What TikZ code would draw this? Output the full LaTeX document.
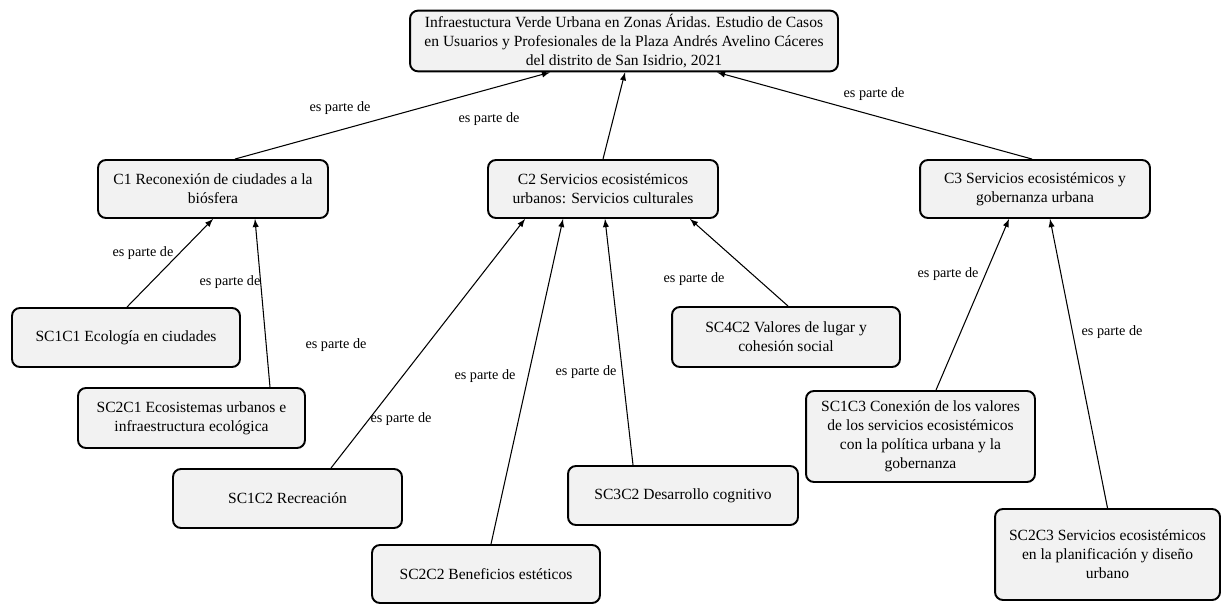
\documentclass[tikz,border=0pt]{standalone}
\usepackage{fontspec}
\setmainfont{Liberation Serif}
\usepackage{tikz}
\usetikzlibrary{positioning,calc}
\definecolor{boxgray}{RGB}{242,242,242}
\tikzset{>=latex}
\tikzset{concept/.style={draw=black, line width=1.1pt, rounded corners=4.5pt,
    fill=boxgray, align=center, inner sep=2pt,
    font=\fontsize{8.85}{10.8}\selectfont}}
\tikzset{link/.style={font=\fontsize{8.1}{9.5}\selectfont, inner sep=1pt}}
\tikzset{partof/.style={->, line width=0.6pt}}

\begin{document}
\begin{tikzpicture}[x=0.02cm, y=-0.02cm]
  \useasboundingbox (0,0) rectangle (1222,604);
  % main topic
  \node[concept, minimum width=8.56cm, minimum height=1.16cm] (top) at (624,41)
    {Infraestuctura Verde Urbana en Zonas Áridas. Estudio de Casos\\
     en Usuarios y Profesionales de la Plaza Andrés Avelino Cáceres\\
     del distrito de San Isidrio, 2021};
  % categories
  \node[concept, minimum width=4.6cm, minimum height=1.16cm] (c1) at (213,189)
    {C1 Reconexión de ciudades a la\\biósfera};
  \node[concept, minimum width=4.6cm, minimum height=1.16cm] (c2) at (603,189)
    {C2 Servicios ecosistémicos\\urbanos: Servicios culturales};
  \node[concept, minimum width=4.6cm, minimum height=1.16cm] (c3) at (1035,189)
    {C3 Servicios ecosistémicos y\\gobernanza urbana};
  % subcategories
  \node[concept, minimum width=4.56cm, minimum height=1.18cm] (sc1c1) at (126,337.5)
    {SC1C1 Ecología en ciudades};
  \node[concept, minimum width=4.54cm, minimum height=1.2cm] (sc2c1) at (191.5,418)
    {SC2C1 Ecosistemas urbanos e\\infraestructura ecológica};
  \node[concept, minimum width=4.58cm, minimum height=1.18cm] (sc1c2) at (287.5,498.5)
    {SC1C2 Recreación};
  \node[concept, minimum width=4.56cm, minimum height=1.16cm] (sc2c2) at (486,574)
    {SC2C2 Beneficios estéticos};
  \node[concept, minimum width=4.6cm, minimum height=1.18cm] (sc3c2) at (683,495.5)
    {SC3C2 Desarrollo cognitivo};
  \node[concept, minimum width=4.56cm, minimum height=1.2cm] (sc4c2) at (786,337)
    {SC4C2 Valores de lugar y\\cohesión social};
  \node[concept, minimum width=4.58cm, minimum height=1.82cm] (sc1c3) at (920.5,436.5)
    {SC1C3 Conexión de los valores\\de los servicios ecosistémicos\\con la política urbana y la\\gobernanza};
  \node[concept, minimum width=4.5cm, minimum height=1.82cm] (sc2c3) at (1107.5,554.5)
    {SC2C3 Servicios ecosistémicos\\en la planificación y diseño\\urbano};

  % links
  \draw[partof] ([xshift=0.44cm]c1.north) -- ([xshift=-1.48cm]top.south);
  \draw[partof] (c2.north) -- ([xshift=0.02cm]top.south);
  \draw[partof] ([xshift=-0.06cm]c3.north) -- ([xshift=1.86cm]top.south);
  \draw[partof] ([xshift=0.02cm]sc1c1.north) -- (c1.south);
  \draw[partof] ([xshift=1.57cm]sc2c1.north) -- ([xshift=0.84cm]c1.south);
  \draw[partof] ([xshift=0.87cm]sc1c2.north) -- ([xshift=-1.56cm]c2.south);
  \draw[partof] ([xshift=0.1cm]sc2c2.north) -- ([xshift=-0.8cm]c2.south);
  \draw[partof] ([xshift=-1cm]sc3c2.north) -- ([xshift=0.04cm]c2.south);
  \draw[partof] ([xshift=0.04cm]sc4c2.north) -- ([xshift=1.74cm]c2.south);
  \draw[partof] ([xshift=0.31cm]sc1c3.north) -- ([xshift=-0.52cm]c3.south);
  \draw[partof] (sc2c3.north) -- ([xshift=0.3cm]c3.south);

  % link labels
  \node[link] (l1) at (340,108) {es parte de};
  \node[link] (l2) at (489,119) {es parte de};
  \node[link] (l3) at (874,94) {es parte de};
  \node[link] (l4) at (143,253) {es parte de};
  \node[link] (l5) at (230,282) {es parte de};
  \node[link] (l6) at (336,345) {es parte de};
  \node[link] (l7) at (485,376) {es parte de};
  \node[link] (l8) at (401,419) {es parte de};
  \node[link] (l9) at (586,372) {es parte de};
  \node[link] (l10) at (694,279) {es parte de};
  \node[link] (l11) at (948,274) {es parte de};
  \node[link] (l12) at (1112,332) {es parte de};
\end{tikzpicture}
\end{document}
